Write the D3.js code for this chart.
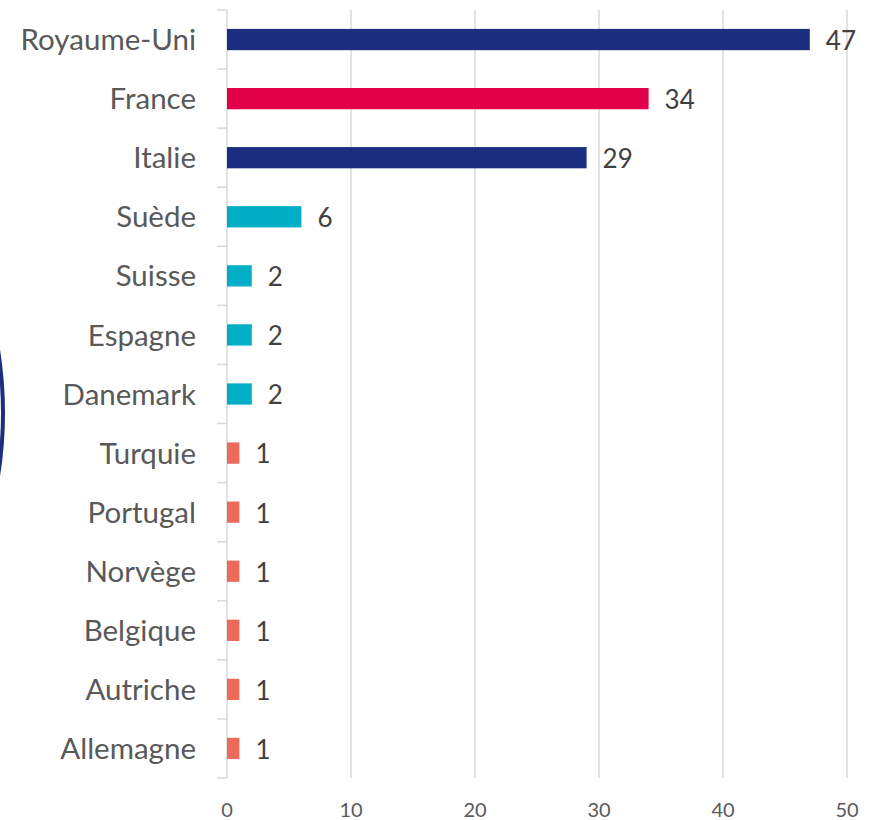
<!DOCTYPE html>
<html>
<head>
<meta charset="utf-8">
<script src="https://cdn.jsdelivr.net/npm/d3@7"></script>
<style>
  body { margin: 0; background: #fff; }
  text { font-family: Lato, "Open Sans", sans-serif; }
</style>
</head>
<body>
<div id="root"></div>
<script>
// Pays, valeurs et couleur de chaque barre
const countries = ["Royaume-Uni", "France", "Italie", "Suède", "Suisse", "Espagne", "Danemark",
  "Turquie", "Portugal", "Norvège", "Belgique", "Autriche", "Allemagne"];
const values = [47, 34, 29, 6, 2, 2, 2, 1, 1, 1, 1, 1, 1];
const barColors = ["#1b2e80", "#e3004a", "#1b2e80", "#00afc6", "#00afc6", "#00afc6", "#00afc6",
  "#eb6a5a", "#eb6a5a", "#eb6a5a", "#eb6a5a", "#eb6a5a", "#eb6a5a"];
const xTicks = [0, 10, 20, 30, 40, 50];

const width = 875, height = 820;
const margin = { top: 10, right: 28, bottom: 42, left: 227 };

const svg = d3.select("#root")
  .append("svg")
  .attr("width", width)
  .attr("height", height);

const x = d3.scaleLinear()
  .domain([0, 50])
  .range([margin.left, width - margin.right]);

const y = d3.scaleBand()
  .domain(countries)
  .range([margin.top, height - margin.bottom])
  .paddingInner(0.64)
  .paddingOuter(0.32);

// decorative arc cut by the left edge
svg.append("circle")
  .attr("cx", -397)
  .attr("cy", 413)
  .attr("r", 400)
  .attr("fill", "none")
  .attr("stroke", "#1b2e80")
  .attr("stroke-width", 4);

// vertical gridlines
svg.append("g")
  .selectAll("line")
  .data(xTicks.slice(1))
  .join("line")
  .attr("x1", d => x(d))
  .attr("x2", d => x(d))
  .attr("y1", margin.top)
  .attr("y2", height - margin.bottom)
  .attr("stroke", "#d9d9d9")
  .attr("stroke-width", 1.5);

// x tick labels
svg.append("g")
  .selectAll("text")
  .data(xTicks)
  .join("text")
  .attr("x", d => x(d))
  .attr("y", 817)
  .attr("text-anchor", "middle")
  .attr("fill", "#595959")
  .attr("font-size", 20)
  .text(d => d);

// y axis line with ticks between categories
const boundaries = d3.range(countries.length + 1).map(i =>
  margin.top + i * (height - margin.bottom - margin.top) / countries.length);
svg.append("line")
  .attr("x1", x(0)).attr("x2", x(0))
  .attr("y1", margin.top).attr("y2", height - margin.bottom)
  .attr("stroke", "#d9d9d9").attr("stroke-width", 1.5);
svg.append("g")
  .selectAll("line")
  .data(boundaries)
  .join("line")
  .attr("x1", x(0) - 10)
  .attr("x2", x(0))
  .attr("y1", d => d)
  .attr("y2", d => d)
  .attr("stroke", "#d9d9d9")
  .attr("stroke-width", 1.5);

// bars
svg.append("g")
  .selectAll("rect")
  .data(countries)
  .join("rect")
  .attr("x", x(0))
  .attr("y", d => y(d))
  .attr("width", (d, i) => x(values[i]) - x(0))
  .attr("height", y.bandwidth())
  .attr("fill", (d, i) => barColors[i]);

// category labels
svg.append("g")
  .selectAll("text")
  .data(countries)
  .join("text")
  .attr("x", 196)
  .attr("y", d => y(d) + y.bandwidth() / 2)
  .attr("dy", "0.36em")
  .attr("text-anchor", "end")
  .attr("fill", "#595959")
  .attr("font-size", 29.5)
  .text(d => d);

// value labels
svg.append("g")
  .selectAll("text")
  .data(countries)
  .join("text")
  .attr("x", (d, i) => x(values[i]) + 16)
  .attr("y", d => y(d) + y.bandwidth() / 2)
  .attr("dy", "0.4em")
  .attr("fill", "#404040")
  .attr("font-size", 26)
  .text((d, i) => values[i]);
</script>
</body>
</html>
